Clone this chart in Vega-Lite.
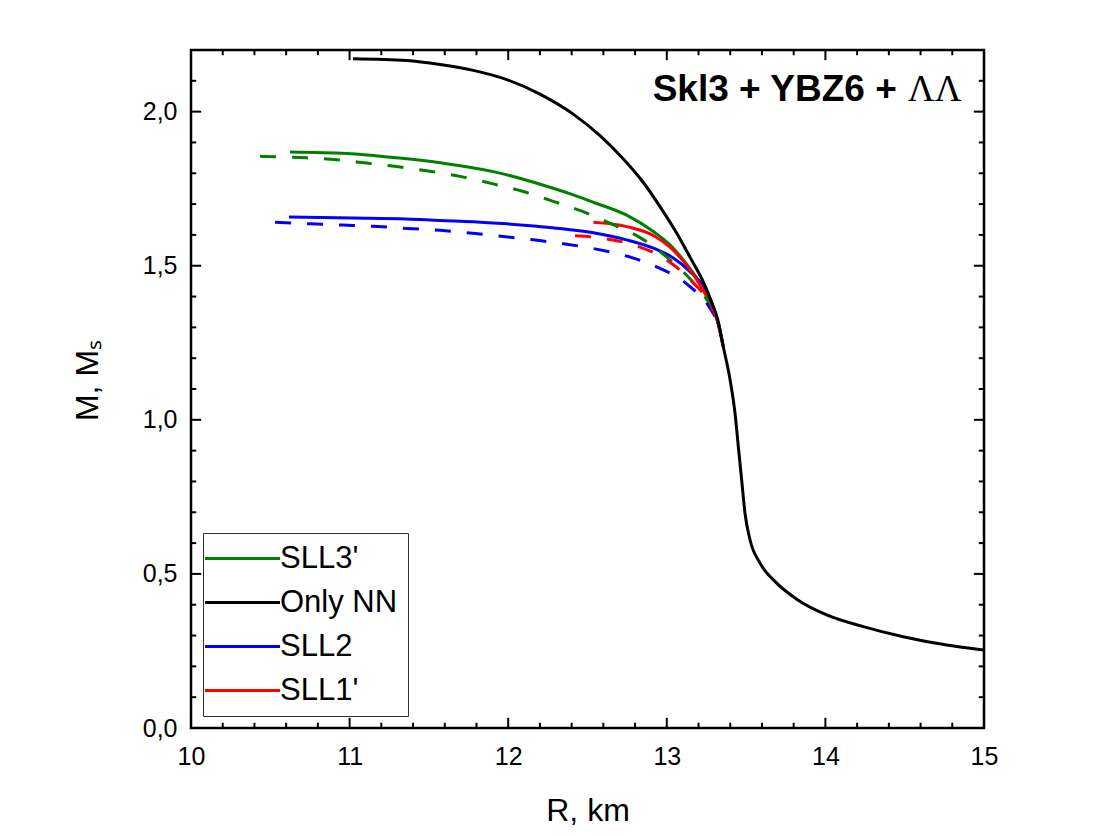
{
  "$schema": "https://vega.github.io/schema/vega-lite/v6.json",
  "width": 793,
  "height": 678,
  "autosize": {"type": "none"},
  "padding": {"left": 191, "top": 50, "right": 125, "bottom": 108},
  "background": "white",
  "config": {"view": {"stroke": "black", "strokeWidth": 2.5}, "font": "Liberation Sans"},
  "datasets": {
    "curves": [
      {"R": 10.624, "M": 1.869, "model": "SLL3'", "kind": "solid"},
      {"R": 10.982, "M": 1.864, "model": "SLL3'", "kind": "solid"},
      {"R": 11.297, "M": 1.850, "model": "SLL3'", "kind": "solid"},
      {"R": 11.612, "M": 1.831, "model": "SLL3'", "kind": "solid"},
      {"R": 11.927, "M": 1.803, "model": "SLL3'", "kind": "solid"},
      {"R": 12.243, "M": 1.758, "model": "SLL3'", "kind": "solid"},
      {"R": 12.410, "M": 1.730, "model": "SLL3'", "kind": "solid"},
      {"R": 12.537, "M": 1.706, "model": "SLL3'", "kind": "solid"},
      {"R": 12.747, "M": 1.664, "model": "SLL3'", "kind": "solid"},
      {"R": 12.915, "M": 1.611, "model": "SLL3'", "kind": "solid"},
      {"R": 13.020, "M": 1.568, "model": "SLL3'", "kind": "solid"},
      {"R": 13.104, "M": 1.519, "model": "SLL3'", "kind": "solid"},
      {"R": 13.167, "M": 1.476, "model": "SLL3'", "kind": "solid"},
      {"R": 13.230, "M": 1.422, "model": "SLL3'", "kind": "solid"},
      {"R": 13.283, "M": 1.368, "model": "SLL3'", "kind": "solid"},
      {"R": 13.315, "M": 1.330, "model": "SLL3'", "kind": "solid"},
      {"R": 13.356, "M": 1.238, "model": "SLL3'", "kind": "solid"},

      {"R": 10.435, "M": 1.855, "model": "SLL3'", "kind": "dashed"},
      {"R": 10.730, "M": 1.850, "model": "SLL3'", "kind": "dashed"},
      {"R": 10.919, "M": 1.844, "model": "SLL3'", "kind": "dashed"},
      {"R": 11.108, "M": 1.833, "model": "SLL3'", "kind": "dashed"},
      {"R": 11.297, "M": 1.822, "model": "SLL3'", "kind": "dashed"},
      {"R": 11.486, "M": 1.808, "model": "SLL3'", "kind": "dashed"},
      {"R": 11.696, "M": 1.790, "model": "SLL3'", "kind": "dashed"},
      {"R": 11.885, "M": 1.768, "model": "SLL3'", "kind": "dashed"},
      {"R": 12.095, "M": 1.741, "model": "SLL3'", "kind": "dashed"},
      {"R": 12.284, "M": 1.709, "model": "SLL3'", "kind": "dashed"},
      {"R": 12.465, "M": 1.677, "model": "SLL3'", "kind": "dashed"},
      {"R": 12.654, "M": 1.635, "model": "SLL3'", "kind": "dashed"},
      {"R": 12.842, "M": 1.588, "model": "SLL3'", "kind": "dashed"},
      {"R": 13.004, "M": 1.526, "model": "SLL3'", "kind": "dashed"},
      {"R": 13.157, "M": 1.451, "model": "SLL3'", "kind": "dashed"},
      {"R": 13.277, "M": 1.368, "model": "SLL3'", "kind": "dashed"},
      {"R": 13.323, "M": 1.318, "model": "SLL3'", "kind": "dashed"},

      {"R": 10.618, "M": 1.658, "model": "SLL2", "kind": "solid"},
      {"R": 11.023, "M": 1.655, "model": "SLL2", "kind": "solid"},
      {"R": 11.360, "M": 1.652, "model": "SLL2", "kind": "solid"},
      {"R": 11.570, "M": 1.647, "model": "SLL2", "kind": "solid"},
      {"R": 11.780, "M": 1.643, "model": "SLL2", "kind": "solid"},
      {"R": 11.991, "M": 1.636, "model": "SLL2", "kind": "solid"},
      {"R": 12.180, "M": 1.628, "model": "SLL2", "kind": "solid"},
      {"R": 12.327, "M": 1.621, "model": "SLL2", "kind": "solid"},
      {"R": 12.537, "M": 1.607, "model": "SLL2", "kind": "solid"},
      {"R": 12.747, "M": 1.584, "model": "SLL2", "kind": "solid"},
      {"R": 12.915, "M": 1.557, "model": "SLL2", "kind": "solid"},
      {"R": 13.041, "M": 1.525, "model": "SLL2", "kind": "solid"},
      {"R": 13.146, "M": 1.481, "model": "SLL2", "kind": "solid"},
      {"R": 13.230, "M": 1.433, "model": "SLL2", "kind": "solid"},
      {"R": 13.283, "M": 1.379, "model": "SLL2", "kind": "solid"},
      {"R": 13.315, "M": 1.330, "model": "SLL2", "kind": "solid"},
      {"R": 13.356, "M": 1.238, "model": "SLL2", "kind": "solid"},

      {"R": 10.530, "M": 1.641, "model": "SLL2", "kind": "dashed"},
      {"R": 10.750, "M": 1.636, "model": "SLL2", "kind": "dashed"},
      {"R": 10.960, "M": 1.632, "model": "SLL2", "kind": "dashed"},
      {"R": 11.149, "M": 1.628, "model": "SLL2", "kind": "dashed"},
      {"R": 11.360, "M": 1.621, "model": "SLL2", "kind": "dashed"},
      {"R": 11.570, "M": 1.615, "model": "SLL2", "kind": "dashed"},
      {"R": 11.759, "M": 1.606, "model": "SLL2", "kind": "dashed"},
      {"R": 11.969, "M": 1.595, "model": "SLL2", "kind": "dashed"},
      {"R": 12.158, "M": 1.584, "model": "SLL2", "kind": "dashed"},
      {"R": 12.369, "M": 1.570, "model": "SLL2", "kind": "dashed"},
      {"R": 12.563, "M": 1.553, "model": "SLL2", "kind": "dashed"},
      {"R": 12.762, "M": 1.529, "model": "SLL2", "kind": "dashed"},
      {"R": 12.951, "M": 1.493, "model": "SLL2", "kind": "dashed"},
      {"R": 13.131, "M": 1.439, "model": "SLL2", "kind": "dashed"},
      {"R": 13.272, "M": 1.363, "model": "SLL2", "kind": "dashed"},
      {"R": 13.323, "M": 1.318, "model": "SLL2", "kind": "dashed"},

      {"R": 12.537, "M": 1.641, "model": "SLL1'", "kind": "solid"},
      {"R": 12.747, "M": 1.627, "model": "SLL1'", "kind": "solid"},
      {"R": 12.915, "M": 1.598, "model": "SLL1'", "kind": "solid"},
      {"R": 13.020, "M": 1.560, "model": "SLL1'", "kind": "solid"},
      {"R": 13.104, "M": 1.515, "model": "SLL1'", "kind": "solid"},
      {"R": 13.167, "M": 1.472, "model": "SLL1'", "kind": "solid"},
      {"R": 13.230, "M": 1.420, "model": "SLL1'", "kind": "solid"},
      {"R": 13.283, "M": 1.371, "model": "SLL1'", "kind": "solid"},
      {"R": 13.315, "M": 1.330, "model": "SLL1'", "kind": "solid"},
      {"R": 13.356, "M": 1.238, "model": "SLL1'", "kind": "solid"},

      {"R": 12.421, "M": 1.597, "model": "SLL1'", "kind": "dashed"},
      {"R": 12.610, "M": 1.588, "model": "SLL1'", "kind": "dashed"},
      {"R": 12.806, "M": 1.565, "model": "SLL1'", "kind": "dashed"},
      {"R": 12.999, "M": 1.519, "model": "SLL1'", "kind": "dashed"},
      {"R": 13.146, "M": 1.455, "model": "SLL1'", "kind": "dashed"},
      {"R": 13.285, "M": 1.364, "model": "SLL1'", "kind": "dashed"},
      {"R": 13.323, "M": 1.318, "model": "SLL1'", "kind": "dashed"},

      {"R": 11.021, "M": 2.172, "model": "Only NN", "kind": "solid"},
      {"R": 11.360, "M": 2.166, "model": "Only NN", "kind": "solid"},
      {"R": 11.570, "M": 2.153, "model": "Only NN", "kind": "solid"},
      {"R": 11.780, "M": 2.134, "model": "Only NN", "kind": "solid"},
      {"R": 11.991, "M": 2.104, "model": "Only NN", "kind": "solid"},
      {"R": 12.200, "M": 2.057, "model": "Only NN", "kind": "solid"},
      {"R": 12.410, "M": 1.992, "model": "Only NN", "kind": "solid"},
      {"R": 12.579, "M": 1.922, "model": "Only NN", "kind": "solid"},
      {"R": 12.726, "M": 1.846, "model": "Only NN", "kind": "solid"},
      {"R": 12.852, "M": 1.770, "model": "Only NN", "kind": "solid"},
      {"R": 12.957, "M": 1.692, "model": "Only NN", "kind": "solid"},
      {"R": 13.062, "M": 1.606, "model": "Only NN", "kind": "solid"},
      {"R": 13.146, "M": 1.528, "model": "Only NN", "kind": "solid"},
      {"R": 13.230, "M": 1.448, "model": "Only NN", "kind": "solid"},
      {"R": 13.287, "M": 1.377, "model": "Only NN", "kind": "solid"},
      {"R": 13.325, "M": 1.318, "model": "Only NN", "kind": "solid"},
      {"R": 13.356, "M": 1.238, "model": "Only NN", "kind": "solid"},
      {"R": 13.399, "M": 1.130, "model": "Only NN", "kind": "solid"},
      {"R": 13.430, "M": 1.022, "model": "Only NN", "kind": "solid"},
      {"R": 13.451, "M": 0.913, "model": "Only NN", "kind": "solid"},
      {"R": 13.472, "M": 0.805, "model": "Only NN", "kind": "solid"},
      {"R": 13.493, "M": 0.697, "model": "Only NN", "kind": "solid"},
      {"R": 13.525, "M": 0.610, "model": "Only NN", "kind": "solid"},
      {"R": 13.588, "M": 0.535, "model": "Only NN", "kind": "solid"},
      {"R": 13.693, "M": 0.470, "model": "Only NN", "kind": "solid"},
      {"R": 13.819, "M": 0.418, "model": "Only NN", "kind": "solid"},
      {"R": 14.008, "M": 0.367, "model": "Only NN", "kind": "solid"},
      {"R": 14.239, "M": 0.329, "model": "Only NN", "kind": "solid"},
      {"R": 14.491, "M": 0.296, "model": "Only NN", "kind": "solid"},
      {"R": 14.765, "M": 0.269, "model": "Only NN", "kind": "solid"},
      {"R": 14.996, "M": 0.253, "model": "Only NN", "kind": "solid"}
    ],
    "title1": [{"label": "Skl3 + YBZ6 +"}],
    "title2": [{"label": "ΛΛ"}],
    "xmajor": [{"v": 10}, {"v": 11}, {"v": 12}, {"v": 13}, {"v": 14}, {"v": 15}],
    "xminor": [
      {"v": 10.2}, {"v": 10.4}, {"v": 10.6}, {"v": 10.8},
      {"v": 11.2}, {"v": 11.4}, {"v": 11.6}, {"v": 11.8},
      {"v": 12.2}, {"v": 12.4}, {"v": 12.6}, {"v": 12.8},
      {"v": 13.2}, {"v": 13.4}, {"v": 13.6}, {"v": 13.8},
      {"v": 14.2}, {"v": 14.4}, {"v": 14.6}, {"v": 14.8}
    ],
    "ymajor": [{"v": 0}, {"v": 0.5}, {"v": 1.0}, {"v": 1.5}, {"v": 2.0}],
    "yminor": [
      {"v": 0.1}, {"v": 0.2}, {"v": 0.3}, {"v": 0.4},
      {"v": 0.6}, {"v": 0.7}, {"v": 0.8}, {"v": 0.9},
      {"v": 1.1}, {"v": 1.2}, {"v": 1.3}, {"v": 1.4},
      {"v": 1.6}, {"v": 1.7}, {"v": 1.8}, {"v": 1.9},
      {"v": 2.1}
    ]
  },
  "layer": [
    {
      "data": {"name": "curves"},
      "transform": [{"filter": "datum.model !== 'Only NN' && datum.kind === 'solid'"}],
      "mark": {"type": "line", "strokeWidth": 3, "interpolate": "monotone", "clip": true},
      "encoding": {
        "x": {
          "field": "R", "type": "quantitative",
          "scale": {"domain": [10, 15], "nice": false, "zero": false},
          "axis": {
            "orient": "bottom", "values": [10, 11, 12, 13, 14, 15], "format": "d",
            "ticks": false, "domain": false, "grid": false, "labelFlush": false,
            "labelFont": "Liberation Sans", "labelFontSize": 25, "labelColor": "black", "labelPadding": 16,
            "title": "R, km", "titleFont": "Liberation Sans", "titleFontSize": 32, "titleFontWeight": "normal",
            "titleColor": "black", "titleY": 92, "titleBaseline": "alphabetic"
          }
        },
        "y": {
          "field": "M", "type": "quantitative",
          "scale": {"domain": [0, 2.2], "nice": false, "zero": false},
          "axis": {
            "orient": "left", "values": [0, 0.5, 1, 1.5, 2],
            "labelExpr": "replace(format(datum.value, '.1f'), '.', ',')",
            "ticks": false, "domain": false, "grid": false, "labelFlush": false,
            "labelFont": "Liberation Sans", "labelFontSize": 25, "labelColor": "black", "labelPadding": 14,
            "title": "M, Mₛ", "titleFont": "Liberation Sans", "titleFontSize": 32, "titleFontWeight": "normal",
            "titleColor": "black", "titleX": -94, "titleY": 330, "titleAngle": -90,
            "titleAlign": "center", "titleBaseline": "alphabetic"
          }
        },
        "color": {
          "field": "model", "type": "nominal",
          "scale": {"domain": ["SLL3'", "Only NN", "SLL2", "SLL1'"], "range": ["#008000", "#000000", "#0000ff", "#ff0000"]},
          "legend": {
            "orient": "bottom-left", "offset": 12, "title": null,
            "symbolType": "M-1,0H5", "symbolSize": 625, "symbolStrokeWidth": 3, "symbolOffset": -11,
            "labelFont": "Liberation Sans", "labelFontSize": 31, "labelColor": "black",
            "labelOffset": 47, "labelLimit": 400,
            "strokeColor": "#333333", "fillColor": "white", "padding": 10, "rowPadding": 12
          }
        }
      }
    },
    {
      "data": {"name": "curves"},
      "transform": [{"filter": "datum.model !== 'Only NN' && datum.kind === 'dashed'"}],
      "mark": {"type": "line", "strokeWidth": 3, "interpolate": "monotone", "clip": true, "strokeDash": [16, 16]},
      "encoding": {
        "x": {"field": "R", "type": "quantitative", "axis": null},
        "y": {"field": "M", "type": "quantitative", "axis": null},
        "color": {"field": "model", "type": "nominal"}
      }
    },
    {
      "data": {"name": "curves"},
      "transform": [{"filter": "datum.model === 'Only NN'"}],
      "mark": {"type": "line", "strokeWidth": 3, "interpolate": "monotone", "clip": true, "color": "black"},
      "encoding": {
        "x": {"field": "R", "type": "quantitative", "axis": null},
        "y": {"field": "M", "type": "quantitative", "axis": null}
      }
    },
    {
      "data": {"name": "title1"},
      "mark": {"type": "text", "font": "Liberation Sans", "fontSize": 37, "fontWeight": "bold", "align": "right", "baseline": "alphabetic", "color": "black"},
      "encoding": {
        "x": {"datum": 14.45, "type": "quantitative", "axis": null},
        "y": {"datum": 2.034, "type": "quantitative", "axis": null},
        "text": {"field": "label", "type": "nominal"}
      }
    },
    {
      "data": {"name": "title2"},
      "mark": {"type": "text", "font": "Liberation Serif", "fontSize": 37, "fontWeight": "normal", "align": "left", "baseline": "alphabetic", "color": "black"},
      "encoding": {
        "x": {"datum": 14.52, "type": "quantitative", "axis": null},
        "y": {"datum": 2.034, "type": "quantitative", "axis": null},
        "text": {"field": "label", "type": "nominal"}
      }
    },
    {
      "data": {"name": "xmajor"},
      "mark": {"type": "rule", "strokeWidth": 2, "color": "black"},
      "encoding": {
        "x": {"field": "v", "type": "quantitative", "axis": null},
        "y": {"datum": 0, "type": "quantitative", "axis": null},
        "y2": {"datum": 0.033}
      }
    },
    {
      "data": {"name": "xminor"},
      "mark": {"type": "rule", "strokeWidth": 2, "color": "black"},
      "encoding": {
        "x": {"field": "v", "type": "quantitative", "axis": null},
        "y": {"datum": 0, "type": "quantitative", "axis": null},
        "y2": {"datum": 0.017}
      }
    },
    {
      "data": {"name": "xmajor"},
      "mark": {"type": "rule", "strokeWidth": 2, "color": "black"},
      "encoding": {
        "x": {"field": "v", "type": "quantitative", "axis": null},
        "y": {"datum": 2.2, "type": "quantitative", "axis": null},
        "y2": {"datum": 2.167}
      }
    },
    {
      "data": {"name": "xminor"},
      "mark": {"type": "rule", "strokeWidth": 2, "color": "black"},
      "encoding": {
        "x": {"field": "v", "type": "quantitative", "axis": null},
        "y": {"datum": 2.2, "type": "quantitative", "axis": null},
        "y2": {"datum": 2.183}
      }
    },
    {
      "data": {"name": "ymajor"},
      "mark": {"type": "rule", "strokeWidth": 2, "color": "black"},
      "encoding": {
        "y": {"field": "v", "type": "quantitative", "axis": null},
        "x": {"datum": 10, "type": "quantitative", "axis": null},
        "x2": {"datum": 10.064}
      }
    },
    {
      "data": {"name": "yminor"},
      "mark": {"type": "rule", "strokeWidth": 2, "color": "black"},
      "encoding": {
        "y": {"field": "v", "type": "quantitative", "axis": null},
        "x": {"datum": 10, "type": "quantitative", "axis": null},
        "x2": {"datum": 10.033}
      }
    },
    {
      "data": {"name": "ymajor"},
      "mark": {"type": "rule", "strokeWidth": 2, "color": "black"},
      "encoding": {
        "y": {"field": "v", "type": "quantitative", "axis": null},
        "x": {"datum": 15, "type": "quantitative", "axis": null},
        "x2": {"datum": 14.936}
      }
    },
    {
      "data": {"name": "yminor"},
      "mark": {"type": "rule", "strokeWidth": 2, "color": "black"},
      "encoding": {
        "y": {"field": "v", "type": "quantitative", "axis": null},
        "x": {"datum": 15, "type": "quantitative", "axis": null},
        "x2": {"datum": 14.967}
      }
    }
  ],
  "resolve": {"axis": {"x": "independent", "y": "independent"}}
}
